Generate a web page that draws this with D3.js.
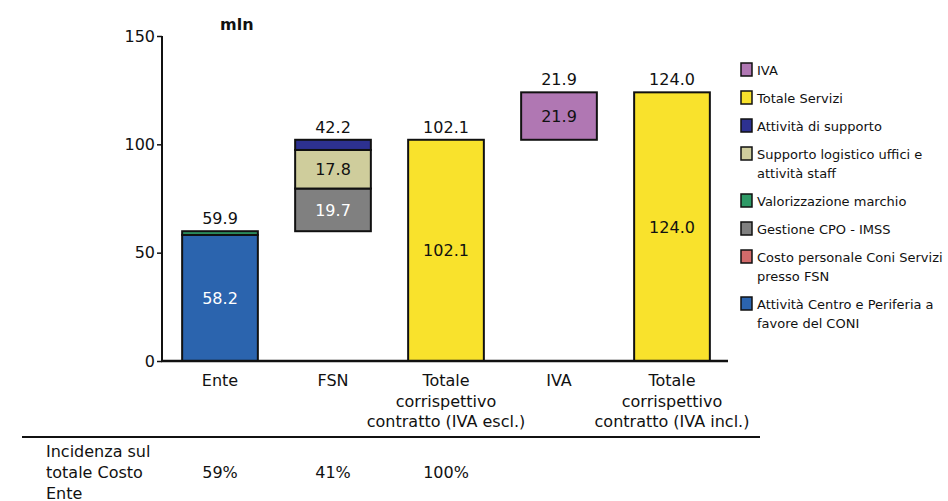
<!DOCTYPE html>
<html>
<head>
<meta charset="utf-8">
<script src="https://cdn.jsdelivr.net/npm/d3@7"></script>
<style>
  body { margin: 0; background: #fff; }
  svg text { font-family: "DejaVu Sans", Verdana, sans-serif; fill: #111; }
</style>
</head>
<body>
<svg id="chart" width="948" height="501"></svg>
<script>
// categories (x axis), each split in lines as in the picture
var categories = ["Ente", "FSN", "Totale escl", "IVA", "Totale incl"];
var categoryLines = [
    ["Ente"],
    ["FSN"],
    ["Totale", "corrispettivo", "contratto (IVA escl.)"],
    ["IVA"],
    ["Totale", "corrispettivo", "contratto (IVA incl.)"]
];
// floating bars start here
var bases = [0, 59.9, 0, 102.1, 0];

// series, bottom to top of the stack
var seriesNames = [
    "Attività Centro e Periferia a favore del CONI",
    "Costo personale Coni Servizi presso FSN",
    "Gestione CPO - IMSS",
    "Valorizzazione marchio",
    "Supporto logistico uffici e attività staff",
    "Attività di supporto",
    "Totale Servizi",
    "IVA"
];
var seriesColors = ["#2b64ae", "#d26a6a", "#808080", "#2e9a66", "#cfcd9c", "#2d3190", "#f9e22c", "#b077b3"];
var seriesLabelColors = ["#fff", "#111", "#fff", "#111", "#111", "#fff", "#111", "#111"];

// values per series, one per category
var attivitaCentro   = [58.2, 0, 0, 0, 0];
var costoPersonale   = [0, 0, 0, 0, 0];
var gestioneCpo      = [0, 19.7, 0, 0, 0];
var valorizzazione   = [1.7, 0, 0, 0, 0];
var supportoLogist   = [0, 17.8, 0, 0, 0];
var attivitaSupporto = [0, 4.7, 0, 0, 0];
var totaleServizi    = [0, 0, 102.1, 0, 124.0];
var iva              = [0, 0, 0, 21.9, 0];
var seriesValues = [attivitaCentro, costoPersonale, gestioneCpo, valorizzazione, supportoLogist, attivitaSupporto, totaleServizi, iva];

var yTicks = [0, 50, 100, 150];
var incidenza = ["59%", "41%", "100%", "", ""];

var svg = d3.select("#chart");

var x = d3.scaleBand().domain(categories).range([163.5, 728.5]).paddingInner(0.33).paddingOuter(0.165);
var y = d3.scaleLinear().domain([0, 150]).range([361, 36]);
var cx = function (c) { return x(c) + x.bandwidth() / 2; };

// table rows for d3.stack
var rows = categories.map(function (c, i) {
    var r = { cat: c };
    seriesNames.forEach(function (s, k) { r[s] = seriesValues[k][i]; });
    return r;
});
var stacked = d3.stack().keys(seriesNames)(rows);

// bars
stacked.forEach(function (layer, k) {
    svg.append("g").selectAll("rect")
        .data(layer.filter(function (d) { return d.data[layer.key] > 0; }))
        .join("rect")
        .attr("x", function (d) { return x(d.data.cat); })
        .attr("width", x.bandwidth())
        .attr("y", function (d) { var b = bases[categories.indexOf(d.data.cat)]; return y(d[1] + b); })
        .attr("height", function (d) { return y(d[0]) - y(d[1]); })
        .attr("fill", seriesColors[k])
        .attr("stroke", "#111")
        .attr("stroke-width", 2);

    svg.append("g").selectAll("text")
        .data(layer.filter(function (d) { return d.data[layer.key] > 10; }))
        .join("text")
        .attr("x", function (d) { return cx(d.data.cat); })
        .attr("y", function (d) { var b = bases[categories.indexOf(d.data.cat)]; return y((d[0] + d[1]) / 2 + b) + 6; })
        .attr("text-anchor", "middle")
        .attr("font-size", 16)
        .style("fill", seriesLabelColors[k])
        .text(function (d) { return d3.format(".1f")(d.data[layer.key]); });
});

// totals above bars
var totals = rows.map(function (r) { return d3.sum(seriesNames, function (s) { return r[s]; }); });
svg.append("g").selectAll("text")
    .data(categories)
    .join("text")
    .attr("x", cx)
    .attr("y", function (c, i) { return y(bases[i] + totals[i]) - 7; })
    .attr("text-anchor", "middle")
    .attr("font-size", 16)
    .text(function (c, i) { return d3.format(".1f")(totals[i]); });

// y axis
var yAxis = svg.append("g").attr("transform", "translate(162,0)")
    .call(d3.axisLeft(y).tickValues(yTicks).tickSize(5).tickPadding(2));
yAxis.select(".domain").attr("stroke", "#111").attr("stroke-width", 2).attr("d", "M0," + y(150) + "V" + y(0));
yAxis.selectAll(".tick line").attr("stroke", "#111").attr("stroke-width", 1.5);
yAxis.selectAll(".tick text").attr("font-size", 16).attr("font-family", "DejaVu Sans, Verdana, sans-serif").style("fill", "#111");

// x axis line
svg.append("line").attr("x1", 161).attr("x2", 728).attr("y1", y(0)).attr("y2", y(0))
    .attr("stroke", "#111").attr("stroke-width", 2.5);

// category labels
svg.append("g").selectAll("text")
    .data(categories)
    .join("text")
    .attr("x", cx)
    .attr("y", 386)
    .attr("text-anchor", "middle")
    .attr("font-size", 16)
    .each(function (c, i) {
        var t = d3.select(this);
        categoryLines[i].forEach(function (line, j) {
            t.append("tspan").attr("x", cx(c)).attr("dy", j === 0 ? 0 : 20.5).text(line);
        });
    });

// unit
svg.append("text").attr("x", 220).attr("y", 30).attr("font-size", 16).attr("font-weight", "bold").text("mln");

// legend (top to bottom is reverse of the stack)
var legendItems = [
    { k: 7, lines: ["IVA"] },
    { k: 6, lines: ["Totale Servizi"] },
    { k: 5, lines: ["Attività di supporto"] },
    { k: 4, lines: ["Supporto logistico uffici e", "attività staff"] },
    { k: 3, lines: ["Valorizzazione marchio"] },
    { k: 2, lines: ["Gestione CPO - IMSS"] },
    { k: 1, lines: ["Costo personale Coni Servizi", "presso FSN"] },
    { k: 0, lines: ["Attività Centro e Periferia a", "favore del CONI"] }
];
var legendY = [70, 98, 126, 154, 201, 229, 257, 304];
var legend = svg.append("g");
legendItems.forEach(function (it, i) {
    legend.append("rect").attr("x", 741).attr("y", legendY[i] - 7).attr("width", 11).attr("height", 13)
        .attr("fill", seriesColors[it.k]).attr("stroke", "#111").attr("stroke-width", 1.5);
    var t = legend.append("text").attr("x", 757).attr("y", legendY[i] + 5).attr("font-size", 13);
    it.lines.forEach(function (line, j) {
        t.append("tspan").attr("x", 757).attr("dy", j === 0 ? 0 : 19).text(line);
    });
});

// table under the chart
svg.append("line").attr("x1", 22).attr("x2", 760).attr("y1", 437).attr("y2", 437)
    .attr("stroke", "#111").attr("stroke-width", 2);
var rowLabel = svg.append("text").attr("x", 46).attr("y", 457).attr("font-size", 16);
["Incidenza sul", "totale Costo", "Ente"].forEach(function (line, j) {
    rowLabel.append("tspan").attr("x", 46).attr("dy", j === 0 ? 0 : 21).text(line);
});
svg.append("g").selectAll("text")
    .data(categories)
    .join("text")
    .attr("x", cx)
    .attr("y", 478)
    .attr("text-anchor", "middle")
    .attr("font-size", 16)
    .text(function (c, i) { return incidenza[i]; });
</script>
</body>
</html>
